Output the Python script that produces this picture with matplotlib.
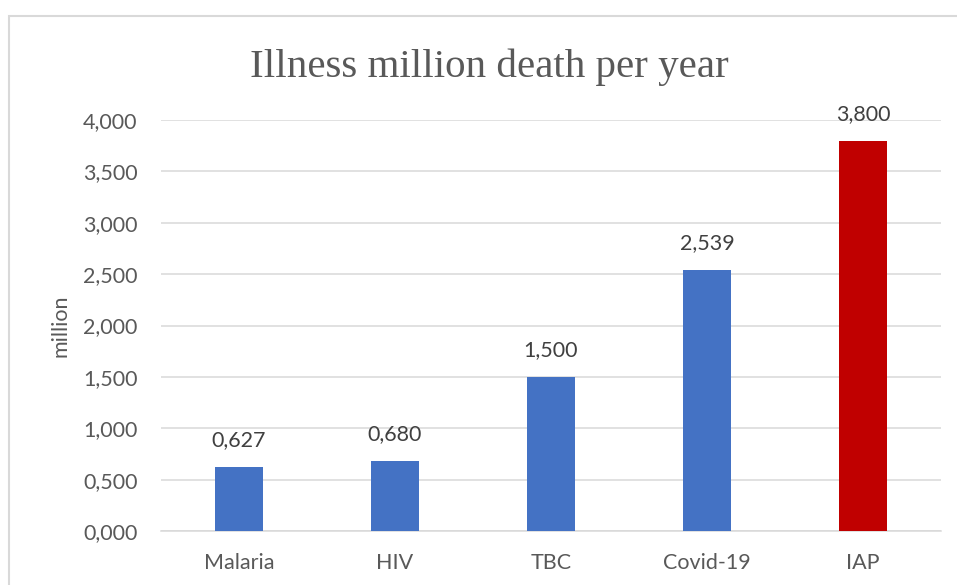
import matplotlib.pyplot as plt
from matplotlib.patches import Rectangle

# data
categories = ['Malaria', 'HIV', 'TBC', 'Covid-19', 'IAP']
deaths = [0.627, 0.680, 1.500, 2.539, 3.800]
bar_colors = ['#4472C4', '#4472C4', '#4472C4', '#4472C4', '#C00000']
yticks = [0, 0.5, 1.0, 1.5, 2.0, 2.5, 3.0, 3.5, 4.0]


def komma(v):
    return f'{v:.3f}'.replace('.', ',')


W, H = 957, 585
fig = plt.figure(figsize=(W / 100, H / 100), dpi=100)
ax = fig.add_axes([161 / W, 54 / H, 780 / W, 411 / H])

x = range(len(categories))
bars = ax.bar(x, deaths, width=0.31, color=bar_colors, zorder=3)

ax.set_xlim(-0.5, len(categories) - 0.5)
ax.set_ylim(0, 4.0)
ax.set_yticks(yticks)
ax.set_yticklabels([komma(t) for t in yticks])
ax.set_xticks(list(x))
ax.set_xticklabels(categories)

ax.grid(axis='y', color='#D9D9D9', linewidth=1.1, zorder=0)
for s in ['top', 'right', 'left']:
    ax.spines[s].set_visible(False)
ax.spines['bottom'].set_color('#D9D9D9')
ax.spines['bottom'].set_linewidth(1.1)

ax.tick_params(axis='y', length=0, pad=17, labelsize=15.5, labelcolor='#595959')
ax.tick_params(axis='x', length=0, pad=16, labelsize=15.5, labelcolor='#595959')
for lab in ax.get_xticklabels() + ax.get_yticklabels():
    lab.set_family('Lato')

ax.set_ylabel('million', fontsize=15.5, color='#595959', family='Lato', labelpad=9)

# value labels
for b, v in zip(bars, deaths):
    ax.annotate(komma(v), (b.get_x() + b.get_width() / 2, v),
                xytext=(0, 12), textcoords='offset points',
                ha='center', va='bottom', fontsize=15.5, color='#404040', family='Lato')

fig.text(489 / W, 1 - 77 / H, 'Illness million death per year', ha='center', va='baseline',
         fontsize=29.5, color='#595959', family='Liberation Serif')

# chart border
fig.add_artist(Rectangle((9 / W, -0.1), 1.2, 1 - 16 / H + 0.1, transform=fig.transFigure,
                         fill=False, edgecolor='#D9D9D9', linewidth=1.5))

fig.savefig('out.png', dpi=100)
